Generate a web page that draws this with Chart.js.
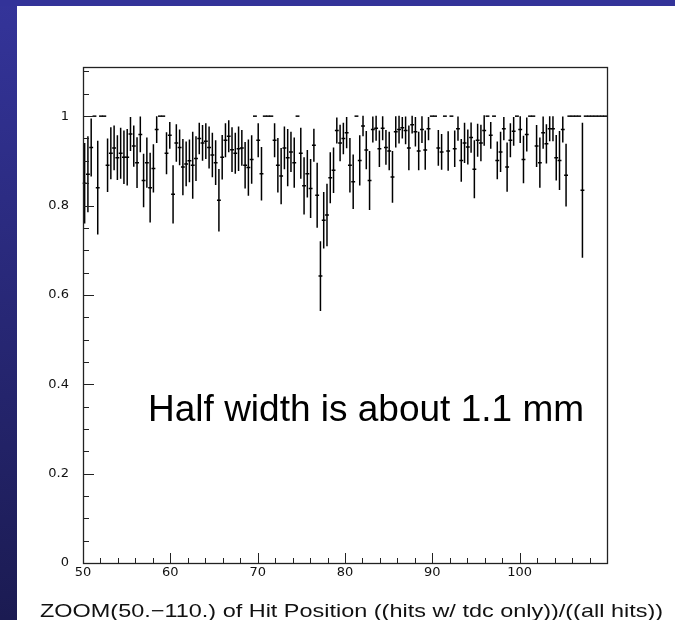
<!DOCTYPE html>
<html>
<head>
<meta charset="utf-8">
<script src="https://cdn.jsdelivr.net/npm/chart.js@4.4.1/dist/chart.umd.min.js"></script>
<style>
  html, body { margin: 0; padding: 0; background: #fff; }
  #wrap { position: relative; width: 675px; height: 620px; overflow: hidden; background: #fff; }
  #side { position: absolute; left: 0; top: 0; width: 17px; height: 620px; background: linear-gradient(#34349a, #1b1b52); }
  #topbar { position: absolute; left: 0; top: 0; width: 675px; height: 6px; background: #333399; }
  canvas { position: absolute; left: 0; top: 0; }
</style>
</head>
<body>
<div id="wrap">
  <div id="side"></div>
  <div id="topbar"></div>
  <canvas id="c" width="675" height="620"></canvas>
</div>
<script>
// Efficiency histogram: (hits w/ tdc only) / (all hits), zoomed to 50-110.
// 160 bins of 0.375; values and error half-widths.
var HIST_MIN = 50, HIST_MAX = 110, N_BINS = 160;

var ratio = [
  0.85, 0.87, 0.93, 1.00, 0.84, 1.00, 1.00, 0.89, 0.917, 0.929, 0.907, 0.917, 0.908, 0.908, 0.96, 0.933,
  0.896, 0.959, 0.856, 0.896, 0.84, 0.883, 0.97, 1.00, 1.00, 0.917, 0.957, 0.825, 0.94, 0.93, 0.886, 0.893,
  0.90, 0.89, 0.905, 0.95, 0.94, 0.944, 0.93, 0.913, 0.896, 0.812, 0.908, 0.946, 0.955, 0.925, 0.917, 0.927,
  0.929, 0.89, 0.885, 0.903, 1.00, 0.946, 0.871, 1.00, 1.00, 1.00, 0.946, 0.89, 0.866, 0.929, 0.907, 0.92,
  0.896, 1.00, 0.917, 0.844, 0.871, 0.838, 0.935, 0.823, 0.642, 0.767, 0.779, 0.862, 0.879, 0.968, 0.94, 0.95,
  0.963, 0.89, 0.853, 1.00, 0.901, 0.978, 0.924, 0.856, 0.97, 0.973, 0.927, 0.973, 0.93, 0.922, 0.864, 0.965,
  0.97, 0.974, 0.968, 0.929, 0.981, 0.965, 0.922, 0.97, 0.924, 0.972, 1.00, 1.00, 0.929, 0.92, 1.00, 0.922,
  1.00, 0.927, 0.972, 0.901, 0.94, 0.931, 0.952, 0.881, 0.946, 0.94, 0.968, 1.00, 0.957, 1.00, 0.901, 0.92,
  0.972, 0.886, 0.946, 0.966, 1.00, 0.97, 0.903, 0.959, 1.00, 1.00, 0.933, 0.896, 0.963, 0.938, 0.972, 0.972,
  0.907, 0.901, 0.97, 0.868, 1.00, 1.00, 1.00, 1.00, 0.834, 1.00, 1.00, 1.00, 1.00, 1.00, 1.00, 1.00
];

var err = [
  0.09, 0.085, 0.065, 0, 0.105, 0, 0, 0.06, 0.058, 0.05, 0.05, 0.057, 0.06, 0.063, 0.038, 0.046,
  0.057, 0.04, 0.06, 0.056, 0.078, 0.054, 0.03, 0, 0, 0.047, 0.03, 0.065, 0.042, 0.04, 0.063, 0.05,
  0.048, 0.075, 0.05, 0.035, 0.04, 0.04, 0.047, 0.05, 0.05, 0.07, 0.05, 0.038, 0.036, 0.05, 0.046, 0.05,
  0.04, 0.052, 0.063, 0.054, 0, 0.038, 0.06, 0, 0, 0, 0.038, 0.061, 0.063, 0.048, 0.064, 0.045,
  0.056, 0, 0.057, 0.064, 0.053, 0.066, 0.037, 0.073, 0.078, 0.063, 0.07, 0.057, 0.051, 0.029, 0.041, 0.035,
  0.035, 0.061, 0.061, 0, 0.056, 0.023, 0.043, 0.066, 0.029, 0.028, 0.041, 0.027, 0.039, 0.043, 0.058, 0.035,
  0.031, 0.024, 0.031, 0.05, 0.02, 0.033, 0.043, 0.03, 0.044, 0.026, 0, 0, 0.04, 0.04, 0, 0.044,
  0, 0.041, 0.027, 0.048, 0.045, 0.039, 0.034, 0.065, 0.037, 0.041, 0.034, 0, 0.03, 0, 0.042, 0.045,
  0.026, 0.055, 0.038, 0.032, 0, 0.03, 0.053, 0.038, 0, 0, 0.047, 0.056, 0.036, 0.044, 0.028, 0.028,
  0.051, 0.066, 0.029, 0.07, 0, 0, 0, 0, 0.151, 0, 0, 0, 0, 0, 0, 0
];

var X_MAJOR = [50, 60, 70, 80, 90, 100];
var X_MINOR = [52, 54, 56, 58, 62, 64, 66, 68, 72, 74, 76, 78, 82, 84, 86, 88, 92, 94, 96, 98, 102, 104, 106, 108];
var Y_MAJOR = [0, 0.2, 0.4, 0.6, 0.8, 1];
var Y_MINOR = [0.05, 0.1, 0.15, 0.25, 0.3, 0.35, 0.45, 0.5, 0.55, 0.65, 0.7, 0.75, 0.85, 0.9, 0.95, 1.05, 1.1];

var X_TITLE = "ZOOM(50.\u2212110.) of Hit Position ((hits w/ tdc only))/((all hits))";
var NOTE = "Half width is about 1.1 mm";
var NOTE_AT = { x: 57.45, y: 0.318 };

var BIN_W = (HIST_MAX - HIST_MIN) / N_BINS;
var points = ratio.map(function (v, i) {
  return { x: HIST_MIN + (i + 0.5) * BIN_W, y: v, e: err[i] };
});

var FONT = "'Liberation Sans', Arial, sans-serif";
var AXFONT = "'DejaVu Sans', sans-serif";

// frame, inward ticks, error crosses, the note and the wide x title
var histPlugin = {
  id: "hist",
  afterDatasetsDraw: function (chart) {
    var ctx = chart.ctx, a = chart.chartArea;
    var xs = chart.scales.x, ys = chart.scales.y;
    ctx.save();

    ctx.strokeStyle = "#000";
    ctx.lineWidth = 1.5;
    points.forEach(function (p) {
      var x0 = xs.getPixelForValue(p.x - BIN_W / 2);
      var x1 = xs.getPixelForValue(p.x + BIN_W / 2);
      var cx = xs.getPixelForValue(p.x);
      var cy = ys.getPixelForValue(p.y);
      ctx.beginPath();
      ctx.moveTo(x0 - 0.3, cy); ctx.lineTo(x1 + 0.3, cy);
      if (p.e > 0) {
        ctx.moveTo(cx, ys.getPixelForValue(p.y + p.e));
        ctx.lineTo(cx, ys.getPixelForValue(p.y - p.e));
      }
      ctx.stroke();
    });

    ctx.lineWidth = 1;
    ctx.strokeStyle = "#222";
    ctx.beginPath();
    Y_MAJOR.forEach(function (v) {
      var y = Math.round(ys.getPixelForValue(v)) + 0.5;
      ctx.moveTo(a.left, y); ctx.lineTo(a.left + 11, y);
    });
    Y_MINOR.forEach(function (v) {
      var y = Math.round(ys.getPixelForValue(v)) + 0.5;
      ctx.moveTo(a.left, y); ctx.lineTo(a.left + 6, y);
    });
    X_MAJOR.forEach(function (v) {
      var x = Math.round(xs.getPixelForValue(v)) + 0.5;
      ctx.moveTo(x, a.bottom); ctx.lineTo(x, a.bottom - 10);
    });
    X_MINOR.forEach(function (v) {
      var x = Math.round(xs.getPixelForValue(v)) + 0.5;
      ctx.moveTo(x, a.bottom); ctx.lineTo(x, a.bottom - 5);
    });
    ctx.stroke();

    ctx.lineWidth = 1.3;
    ctx.strokeStyle = "#222";
    ctx.strokeRect(a.left + 0.5, a.top + 0.5, a.right - a.left, a.bottom - a.top);

    ctx.fillStyle = "#000";
    ctx.font = "37px " + FONT;
    ctx.textBaseline = "alphabetic";
    ctx.fillText(NOTE, xs.getPixelForValue(NOTE_AT.x), ys.getPixelForValue(NOTE_AT.y));

    // axis title: the original uses a wide geometric face, so stretch to its width
    ctx.font = "18.5px " + FONT;
    ctx.fillStyle = "#111";
    var tw = ctx.measureText(X_TITLE).width;
    var sx = 623 / tw;
    ctx.translate(40, 617);
    ctx.scale(sx, 1);
    ctx.textAlign = "left";
    ctx.fillText(X_TITLE, 0, 0);
    ctx.restore();
  }
};

new Chart(document.getElementById("c"), {
  type: "scatter",
  data: { datasets: [{ data: points, pointRadius: 0, showLine: false }] },
  options: {
    responsive: false,
    animation: false,
    layout: { padding: { top: 67, right: 68, left: 0, bottom: 0 } },
    plugins: { legend: { display: false }, tooltip: { enabled: false } },
    scales: {
      x: {
        type: "linear", min: HIST_MIN, max: HIST_MAX,
        grid: { display: false, drawTicks: false }, border: { display: false },
        afterBuildTicks: function (s) { s.ticks = X_MAJOR.map(function (v) { return { value: v }; }); },
        afterFit: function (s) { s.height = 57; },
        ticks: { color: "#111", font: { family: AXFONT, size: 13 }, padding: 2, maxRotation: 0, autoSkip: false,
                 callback: function (v) { return String(v); } },
        title: { display: false }
      },
      y: {
        type: "linear", min: 0, max: 1.11,
        grid: { display: false, drawTicks: false }, border: { display: false },
        afterBuildTicks: function (s) { s.ticks = Y_MAJOR.map(function (v) { return { value: v }; }); },
        afterFit: function (s) { s.width = 83; },
        ticks: { color: "#111", font: { family: AXFONT, size: 13 }, padding: 14, autoSkip: false,
                 callback: function (v) { return String(v); } }
      }
    }
  },
  plugins: [histPlugin]
});
</script>
</body>
</html>
